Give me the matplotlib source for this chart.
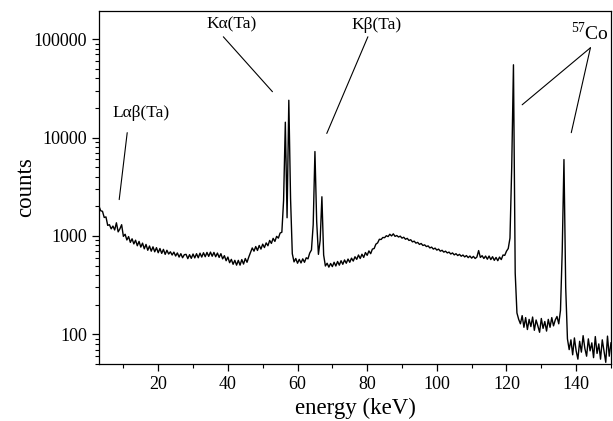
import matplotlib
matplotlib.use("Agg")
import matplotlib.pyplot as plt
import numpy as np
from matplotlib.ticker import LogLocator, MultipleLocator, NullFormatter

plt.rcParams["font.family"] = ["Liberation Serif", "DejaVu Serif"]
plt.rcParams["mathtext.fontset"] = "custom"
plt.rcParams["mathtext.rm"] = "Liberation Serif"

# spectrum, one value every 0.5 keV from 3 to 150 keV
energy = np.arange(3.0, 150.25, 0.5)
counts = [
    2000, 1800, 1780, 1540, 1560, 1280, 1300, 1180, 1260, 1150,   # 3.0-7.5
    1360, 1100, 1180, 1300, 990, 1040, 910, 985, 860, 935,        # 8.0-12.5
    830, 905, 795, 880, 770, 845, 740, 820, 715, 790,             # 13.0-17.5
    700, 775, 690, 760, 675, 745, 665, 730, 650, 715,             # 18.0-22.5
    655, 690, 640, 685, 625, 672, 610, 660, 600, 645,             # 23.0-27.5
    650, 588, 645, 592, 655, 598, 660, 600, 668, 610,             # 28.0-32.5
    675, 615, 680, 620, 685, 622, 680, 615, 670, 605,             # 33.0-37.5
    660, 585, 630, 560, 610, 535, 578, 515, 565, 505,             # 38.0-42.5
    565, 505, 575, 518, 590, 540, 610, 680, 755, 700,             # 43.0-47.5
    780, 712, 800, 735, 825, 762, 850, 795, 900, 840,             # 48.0-52.5
    945, 880, 990, 950, 1070, 1090, 2300, 14300, 1530, 23900,     # 53.0-57.5
    2400, 660, 545, 590, 528, 578, 532, 585, 540, 600,            # 58.0-62.5
    585, 670, 720, 1300, 7200, 1400, 650, 900, 2500, 640,         # 63.0-67.5
    495, 528, 482, 525, 488, 540, 495, 550, 505, 560,             # 68.0-72.5
    515, 570, 528, 582, 540, 595, 555, 615, 578, 640,             # 73.0-77.5
    590, 652, 605, 678, 635, 705, 660, 735, 745, 825,             # 78.0-82.5
    850, 925, 920, 965, 960, 1005, 985, 1040, 1000, 1050,         # 83.0-87.5
    990, 1010, 975, 995, 950, 970, 925, 945, 900, 915,            # 88.0-92.5
    870, 885, 845, 860, 820, 838, 800, 812, 780, 792,             # 93.0-97.5
    755, 770, 735, 752, 718, 735, 700, 715, 685, 700,             # 98.0-102.5
    672, 685, 655, 672, 642, 660, 632, 650, 622, 640,             # 103.0-107.5
    612, 632, 602, 625, 595, 620, 590, 610, 710, 605,             # 108.0-112.5
    630, 590, 625, 580, 625, 575, 615, 565, 605, 560,             # 113.0-117.5
    610, 575, 640, 635, 700, 745, 950, 5000, 54800, 420,          # 118.0-122.5
    165, 142, 128, 155, 118, 148, 112, 142, 120, 150,             # 123.0-127.5
    110, 140, 122, 105, 145, 115, 135, 108, 142, 118,             # 128.0-132.5
    148, 122, 140, 152, 128, 175, 700, 5970, 300, 90,             # 133.0-137.5
    70, 88, 62, 92, 68, 56, 85, 66, 97, 72,                       # 138.0-142.5
    60, 90, 68, 82, 58, 95, 64, 80, 56, 88,                       # 143.0-147.5
    68, 52, 96, 60, 82,                                           # 148.0-150.0
]
assert len(counts) == len(energy)

fig = plt.figure(figsize=(6.13, 4.21), dpi=100)
ax = fig.add_axes([0.1615, 0.1354, 0.8352, 0.8396])

ax.plot(energy, counts, color="black", lw=1.0)

ax.set_yscale("log")
ax.set_xlim(3, 150)
ax.set_ylim(50, 195000)

ax.xaxis.set_major_locator(MultipleLocator(20))
ax.xaxis.set_minor_locator(MultipleLocator(10))
ax.yaxis.set_major_locator(LogLocator(base=10, numticks=10))
ax.yaxis.set_minor_locator(LogLocator(base=10, subs=np.arange(2, 10), numticks=20))
ax.yaxis.set_minor_formatter(NullFormatter())
ax.yaxis.set_major_formatter(plt.FuncFormatter(lambda v, p: f"{v:.0f}"))

ax.tick_params(which="both", direction="out", top=False, right=False, labelsize=13)
ax.tick_params(which="major", length=5, width=0.9)
ax.tick_params(which="minor", length=3, width=0.8)
for s in ax.spines.values():
    s.set_linewidth(0.9)

ax.set_xlabel("energy (keV)", fontsize=16.5, labelpad=3.5)
ax.set_ylabel("counts", fontsize=16.5, labelpad=-2)

# peak labels and leader lines
line_kw = dict(arrowstyle="-", lw=0.8, color="black", shrinkA=0, shrinkB=0)
ax.text(41.0, 139700, "Kα(Ta)", fontsize=12.5, ha="center", va="center")
ax.annotate("", xy=(52.8, 29200), xytext=(38.7, 105500), arrowprops=line_kw)
ax.text(82.6, 139700, "Kβ(Ta)", fontsize=12.5, ha="center", va="center")
ax.annotate("", xy=(68.4, 11000), xytext=(80.2, 105500), arrowprops=line_kw)
ax.text(15.1, 17900, "Lαβ(Ta)", fontsize=12.5, ha="center", va="center")
ax.annotate("", xy=(8.8, 2340), xytext=(11.1, 11200), arrowprops=line_kw)
ax.text(143.9, 115800, r"$^{57}\mathrm{Co}$", fontsize=14, ha="center", va="center")
ax.annotate("", xy=(124.5, 21500), xytext=(144.1, 81600), arrowprops=line_kw)
ax.annotate("", xy=(138.6, 11200), xytext=(144.1, 81600), arrowprops=line_kw)

fig.savefig("out.png", dpi=100, facecolor="white")
